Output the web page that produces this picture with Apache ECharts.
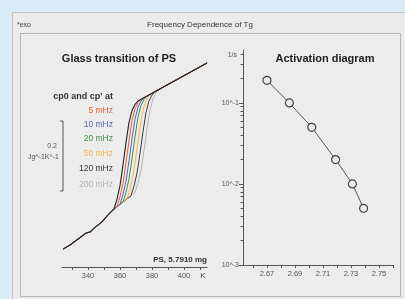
<!DOCTYPE html>
<html>
<head>
<meta charset="UTF-8">
<title>Frequency Dependence of Tg</title>
<style>
html,body{margin:0;padding:0;background:#d9ebf7;}
#panel{position:absolute;left:12px;top:12px;width:400px;height:290px;background:#ebebeb;border:1px solid #c4c4c4;}
#frame{position:absolute;left:20px;top:33px;width:379px;height:262px;border:1px solid #b4b4b4;background:#ececec;}
#main{position:absolute;left:0;top:0;width:405px;height:299px;}
</style>
</head>
<body>
<div id="panel"></div>
<div id="frame"></div>
<div id="main"></div>
<script src="https://cdn.jsdelivr.net/npm/echarts/dist/echarts.min.js"></script>
<script>
// left plot: cp curves (K, J/gK)
var glassPart = [[324.4,0.051],[328.8,0.063],[333.8,0.080],[338.8,0.097],[341.3,0.100],[343.8,0.111],[348.8,0.129],[352.5,0.149],[356.25,0.1657]];
var liquidEnd = [414.4,0.583];
var cp0Step   = [[358.125,0.194],[360.0,0.2326],[361.875,0.2917],[363.75,0.3557],[365.625,0.4131],[367.5,0.4469],[369.375,0.4646],[371.25,0.4743]];
var cp5Step   = [[358.125,0.1724],[360.0,0.2005],[361.875,0.2389],[363.75,0.2976],[365.625,0.3612],[367.5,0.4182],[369.375,0.4518],[371.25,0.4694],[373.125,0.4790]];
var cp10Step  = [[360.0,0.1791],[361.875,0.2071],[363.75,0.2452],[365.625,0.3035],[367.5,0.3666],[369.375,0.4232],[371.25,0.4566],[373.125,0.4741],[375.0,0.4837]];
var cp20Step  = [[361.875,0.1858],[363.75,0.2136],[365.625,0.2515],[367.5,0.3094],[369.375,0.3721],[371.25,0.4283],[373.125,0.4615],[375.0,0.4789],[376.875,0.4884]];
var cp50Step  = [[364.375,0.1947],[366.25,0.2223],[368.125,0.2599],[370.0,0.3173],[371.875,0.3794],[373.75,0.4351],[375.625,0.4679],[377.5,0.4852],[379.375,0.4947]];
var cp120Step = [[366.875,0.2036],[368.75,0.2310],[370.625,0.2683],[372.5,0.3251],[374.375,0.3867],[376.25,0.4418],[378.125,0.4744],[380.0,0.4915],[381.875,0.5010]];
var cp200Step = [[369.375,0.2125],[371.25,0.2397],[373.125,0.2766],[375.0,0.3330],[376.875,0.3939],[378.75,0.4486],[380.625,0.4809],[382.5,0.4979],[384.375,0.5073]];
var freqLabels = ['5 mHz','10 mHz','20 mHz','50 mHz','120 mHz','200 mHz'];
var freqColors = ['#ec5a2e','#5a62b4','#3f9147','#f4b545','#3a3a3a','#b4b4b4'];
var tempTicks  = [330,340,350,360,370,380,390,400,410];
var tempLabels = [340,360,380,400];

// right plot: activation diagram
var invT   = [2.670,2.686,2.702,2.719,2.731,2.739];
var freqHz = [0.19,0.10,0.05,0.02,0.01,0.005];
var invTTicks  = [2.66,2.67,2.68,2.69,2.70,2.71,2.72,2.73,2.74,2.75,2.76];
var invTLabels = [2.67,2.69,2.71,2.73,2.75];
var logMajor = [0.001,0.01,0.1];
var logMinor = [0.002,0.003,0.004,0.005,0.006,0.007,0.008,0.009,0.02,0.03,0.04,0.05,0.06,0.07,0.08,0.09,0.2,0.3,0.4];

var FONT = 'Liberation Sans';
var myChart = echarts.init(document.getElementById('main'));

var steps = [cp200Step,cp120Step,cp50Step,cp20Step,cp10Step,cp5Step];
var stepColors = [freqColors[5],freqColors[4],freqColors[3],freqColors[2],freqColors[1],freqColors[0]];
var series = [];
for(var i=0;i<steps.length;i++){
	series.push({
		type:'line', xAxisIndex:0, yAxisIndex:0, symbol:'none', silent:true,
		lineStyle:{color:stepColors[i],width:1},
		data:glassPart.concat(steps[i],[liquidEnd])
	});
}
series.push({
	type:'line', xAxisIndex:0, yAxisIndex:0, symbol:'none', silent:true,
	lineStyle:{color:'#222',width:1.1},
	data:glassPart.concat(cp0Step,[liquidEnd])
});
var actData = [];
for(var j=0;j<invT.length;j++){ actData.push([invT[j],freqHz[j]]); }
series.push({
	type:'line', xAxisIndex:1, yAxisIndex:1, symbol:'circle', symbolSize:8,
	lineStyle:{color:'#555',width:1},
	itemStyle:{color:'#ebebeb',borderColor:'#444',borderWidth:1.2},
	data:actData
});

// texts
var texts = [
	{x:17,y:25,t:'*exo',s:7,c:'#444',a:'left'},
	{x:200,y:25,t:'Frequency Dependence of Tg',s:8,c:'#333',a:'center'},
	{x:119,y:59,t:'Glass transition of PS',s:11,c:'#222',a:'center',b:true},
	{x:325,y:59,t:'Activation diagram',s:11,c:'#222',a:'center',b:true},
	{x:113,y:97,t:"cp0 and cp' at",s:9,c:'#333',a:'right',b:true},
	{x:57,y:146,t:'0.2',s:7,c:'#555',a:'right'},
	{x:59,y:157,t:'Jg^-1K^-1',s:7,c:'#555',a:'right'},
	{x:207,y:260,t:'PS, 5.7910 mg',s:8,c:'#333',a:'right',b:true},
	{x:203,y:276,t:'K',s:8,c:'#555',a:'center'},
	{x:237,y:55,t:'1/s',s:7,c:'#555',a:'right'}
];
var labelY = [111,125,139,154,169,185];
for(var k=0;k<freqLabels.length;k++){
	texts.push({x:113,y:labelY[k],t:freqLabels[k],s:8.5,c:freqColors[k],a:'right'});
}
var graphics = texts.map(function(o){
	return {type:'text',x:o.x,y:o.y,silent:true,style:{text:o.t,fontSize:o.s,fill:o.c,fontFamily:FONT,
		fontWeight:o.b?'bold':'normal',textAlign:o.a,textVerticalAlign:'middle'}};
});
graphics.push({type:'polyline',silent:true,shape:{points:[[60,121],[63,121],[63,191],[60,191]]},style:{stroke:'#555',fill:null,lineWidth:1}});

var axisGray = '#555';
myChart.setOption({
	animation:false,
	textStyle:{fontFamily:FONT},
	grid:[
		{left:62,width:145,top:39.5,height:227.5},
		{left:243,width:150,top:50,height:215},
		{left:243,width:150,top:50,height:215}
	],
	xAxis:[
		{type:'value',gridIndex:0,min:323.75,max:414.375,
			axisLine:{lineStyle:{color:axisGray}},splitLine:{show:false},
			axisTick:{customValues:tempTicks,length:3,lineStyle:{color:axisGray}},
			axisLabel:{customValues:tempLabels,fontSize:7.5,color:'#555',margin:5}},
		{type:'value',gridIndex:1,min:2.6529,max:2.76,
			axisLine:{onZero:false,lineStyle:{color:axisGray}},splitLine:{show:false},
			axisTick:{customValues:invTTicks,length:3,lineStyle:{color:axisGray}},
			axisLabel:{customValues:invTLabels,fontSize:7.5,color:'#555',margin:5,
				formatter:function(v){return v.toFixed(2);}}},
		{type:'value',gridIndex:2,min:2.6529,max:2.76,show:false}
	],
	yAxis:[
		{type:'value',gridIndex:0,min:0,max:0.65,show:false},
		{type:'log',gridIndex:1,min:0.001,max:0.45,logBase:10,
			axisLine:{show:true,lineStyle:{color:axisGray}},splitLine:{show:false},
			axisTick:{customValues:logMajor,length:4,lineStyle:{color:axisGray}},
			axisLabel:{customValues:logMajor,fontSize:7,color:'#555',margin:4,
				formatter:function(v){return '10^'+Math.round(Math.log10(v));}}},
		{type:'log',gridIndex:2,position:'left',min:0.001,max:0.45,logBase:10,
			axisLine:{show:false},splitLine:{show:false},
			axisTick:{customValues:logMinor,length:2.5,lineStyle:{color:axisGray}},
			axisLabel:{show:false}}
	],
	graphic:graphics,
	series:series
});
</script>
</body>
</html>
